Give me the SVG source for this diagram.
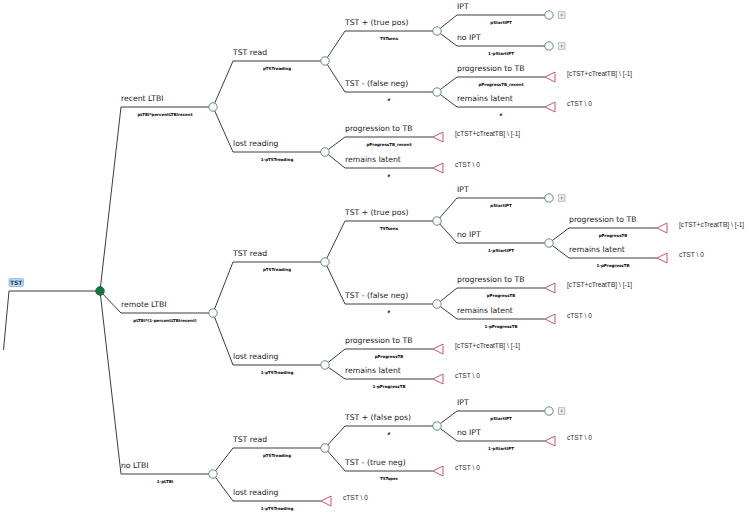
<svg xmlns="http://www.w3.org/2000/svg" width="748" height="515" viewBox="0 0 748 515">
<defs>
<style>
.bg{fill:#ffffff}
.ln{fill:none;stroke:#3c3c3c;stroke-width:1}
.ch{fill:#ffffff;stroke:#5e8f6c;stroke-width:1}
.tm{fill:#ffffff;stroke:#c4566f;stroke-width:1}
.pl{fill:#f6f6f6;stroke:#9a9a9a;stroke-width:0.7}
.pp{stroke:#8a8a8a;stroke-width:0.7}
.lb{font-family:"DejaVu Sans",sans-serif;font-size:7.7px;fill:#222}
.sb{font-family:"DejaVu Sans",sans-serif;font-size:4px;font-weight:bold;fill:#000;text-anchor:middle}
.py{font-family:"Liberation Sans",Arial,sans-serif;font-size:6.6px;fill:#2a2a2a}
</style>
</defs>
<rect class="bg" x="0" y="0" width="748" height="515"/>

<g id="connectors">
<polyline class="ln" points="3.5,350 9,291 100,291"/>
<polyline class="ln" points="100,291 121,107 213,107"/>
<polyline class="ln" points="100,291 121,313 213,313"/>
<polyline class="ln" points="100,291 121,474 213,474"/>
<polyline class="ln" points="213,107 233,61 325,61"/>
<polyline class="ln" points="213,107 233,152 325,152"/>
<polyline class="ln" points="213,313 233,262 325,262"/>
<polyline class="ln" points="213,313 233,365 325,365"/>
<polyline class="ln" points="213,474 233,448 325,448"/>
<polyline class="ln" points="213,474 233,501 321,501"/>
<polyline class="ln" points="325,61 345,31 437,31"/>
<polyline class="ln" points="325,61 345,92 437,92"/>
<polyline class="ln" points="325,152 345,137 433,137"/>
<polyline class="ln" points="325,152 345,168 433,168"/>
<polyline class="ln" points="325,262 345,221 437,221"/>
<polyline class="ln" points="325,262 345,304 437,304"/>
<polyline class="ln" points="325,365 345,349 433,349"/>
<polyline class="ln" points="325,365 345,379 433,379"/>
<polyline class="ln" points="325,448 345,426 437,426"/>
<polyline class="ln" points="325,448 345,471 433,471"/>
<polyline class="ln" points="437,31 457,15 549,15"/>
<polyline class="ln" points="437,31 457,46 549,46"/>
<polyline class="ln" points="437,92 457,77 545,77"/>
<polyline class="ln" points="437,92 457,107 545,107"/>
<polyline class="ln" points="437,221 457,198 549,198"/>
<polyline class="ln" points="437,221 457,243 549,243"/>
<polyline class="ln" points="437,304 457,288 545,288"/>
<polyline class="ln" points="437,304 457,319 545,319"/>
<polyline class="ln" points="437,426 457,411 549,411"/>
<polyline class="ln" points="437,426 457,441 545,441"/>
<polyline class="ln" points="549,243 569,228 657,228"/>
<polyline class="ln" points="549,243 569,258 657,258"/>
</g>

<g id="branch-labels">
<text class="lb" x="121" y="101">recent LTBI</text>
<text class="sb" x="165" y="115.5">pLTBI*percentLTBIrecent</text>
<text class="lb" x="121" y="307">remote LTBI</text>
<text class="sb" x="165" y="321.5">pLTBI*(1-percentLTBIrecent)</text>
<text class="lb" x="121" y="468">no LTBI</text>
<text class="sb" x="165" y="482.5">1-pLTBI</text>

<text class="lb" x="233" y="55">TST read</text>
<text class="sb" x="277" y="69.5">pTSTreading</text>
<text class="lb" x="233" y="146">lost reading</text>
<text class="sb" x="277" y="160.5">1-pTSTreading</text>
<text class="lb" x="233" y="256">TST read</text>
<text class="sb" x="277" y="270.5">pTSTreading</text>
<text class="lb" x="233" y="359">lost reading</text>
<text class="sb" x="277" y="373.5">1-pTSTreading</text>
<text class="lb" x="233" y="442">TST read</text>
<text class="sb" x="277" y="456.5">pTSTreading</text>
<text class="lb" x="233" y="495">lost reading</text>
<text class="sb" x="277" y="509.5">1-pTSTreading</text>

<text class="lb" x="345" y="25">TST + (true pos)</text>
<text class="sb" x="389" y="39.5">TSTsens</text>
<text class="lb" x="345" y="86">TST - (false neg)</text>
<text class="sb" x="389" y="100.5">#</text>
<text class="lb" x="345" y="131">progression to TB</text>
<text class="sb" x="389" y="145.5">pProgressTB_recent</text>
<text class="lb" x="345" y="162">remains latent</text>
<text class="sb" x="389" y="176.5">#</text>
<text class="lb" x="345" y="215">TST + (true pos)</text>
<text class="sb" x="389" y="229.5">TSTsens</text>
<text class="lb" x="345" y="298">TST - (false neg)</text>
<text class="sb" x="389" y="312.5">#</text>
<text class="lb" x="345" y="343">progression to TB</text>
<text class="sb" x="389" y="357.5">pProgressTB</text>
<text class="lb" x="345" y="373">remains latent</text>
<text class="sb" x="389" y="387.5">1-pProgressTB</text>
<text class="lb" x="345" y="420">TST + (false pos)</text>
<text class="sb" x="389" y="434.5">#</text>
<text class="lb" x="345" y="465">TST - (true neg)</text>
<text class="sb" x="389" y="479.5">TSTspec</text>

<text class="lb" x="457" y="9">IPT</text>
<text class="sb" x="501" y="23.5">pStartIPT</text>
<text class="lb" x="457" y="40">no IPT</text>
<text class="sb" x="501" y="54.5">1-pStartIPT</text>
<text class="lb" x="457" y="71">progression to TB</text>
<text class="sb" x="501" y="85.5">pProgressTB_recent</text>
<text class="lb" x="457" y="101">remains latent</text>
<text class="sb" x="501" y="115.5">#</text>
<text class="lb" x="457" y="192">IPT</text>
<text class="sb" x="501" y="206.5">pStartIPT</text>
<text class="lb" x="457" y="237">no IPT</text>
<text class="sb" x="501" y="251.5">1-pStartIPT</text>
<text class="lb" x="457" y="282">progression to TB</text>
<text class="sb" x="501" y="296.5">pProgressTB</text>
<text class="lb" x="457" y="313">remains latent</text>
<text class="sb" x="501" y="327.5">1-pProgressTB</text>
<text class="lb" x="457" y="405">IPT</text>
<text class="sb" x="501" y="419.5">pStartIPT</text>
<text class="lb" x="457" y="435">no IPT</text>
<text class="sb" x="501" y="449.5">1-pStartIPT</text>

<text class="lb" x="569" y="222">progression to TB</text>
<text class="sb" x="613" y="236.5">pProgressTB</text>
<text class="lb" x="569" y="252">remains latent</text>
<text class="sb" x="613" y="266.5">1-pProgressTB</text>
</g>

<g id="node-root">
<rect x="9" y="278.5" width="14.5" height="8" rx="1" fill="#bcd9f3" stroke="#7fa9d6" stroke-width="0.7"/>
<text x="16.2" y="285" font-family="DejaVu Sans,sans-serif" font-size="6px" font-weight="bold" fill="#1f3d6e" text-anchor="middle">TST</text>
</g>
<g id="node-decision"><circle cx="100" cy="291" r="4.4" fill="#17753a" stroke="#0f5a2b" stroke-width="0.6"/></g>

<g id="node-recent"><circle class="ch" cx="213" cy="107" r="4.2"/></g>
<g id="node-remote"><circle class="ch" cx="213" cy="313" r="4.2"/></g>
<g id="node-noltbi"><circle class="ch" cx="213" cy="474" r="4.2"/></g>

<g id="node-recent-read"><circle class="ch" cx="325" cy="61" r="4.2"/></g>
<g id="node-recent-lost"><circle class="ch" cx="325" cy="152" r="4.2"/></g>
<g id="node-remote-read"><circle class="ch" cx="325" cy="262" r="4.2"/></g>
<g id="node-remote-lost"><circle class="ch" cx="325" cy="365" r="4.2"/></g>
<g id="node-noltbi-read"><circle class="ch" cx="325" cy="448" r="4.2"/></g>
<g id="node-noltbi-lost"><polygon class="tm" points="321,501 331,496 331,506"/><text class="py" x="343" y="499.5">cTST \ 0</text></g>

<g id="node-recent-truepos"><circle class="ch" cx="437" cy="31" r="4.2"/></g>
<g id="node-recent-falseneg"><circle class="ch" cx="437" cy="92" r="4.2"/></g>
<g id="node-recent-lost-prog"><polygon class="tm" points="433,137 443,132 443,142"/><text class="py" x="455" y="135.5">[cTST+cTreatTB] \ [-1]</text></g>
<g id="node-recent-lost-latent"><polygon class="tm" points="433,168 443,163 443,173"/><text class="py" x="455" y="166.5">cTST \ 0</text></g>
<g id="node-remote-truepos"><circle class="ch" cx="437" cy="221" r="4.2"/></g>
<g id="node-remote-falseneg"><circle class="ch" cx="437" cy="304" r="4.2"/></g>
<g id="node-remote-lost-prog"><polygon class="tm" points="433,349 443,344 443,354"/><text class="py" x="455" y="347.5">[cTST+cTreatTB] \ [-1]</text></g>
<g id="node-remote-lost-latent"><polygon class="tm" points="433,379 443,374 443,384"/><text class="py" x="455" y="377.5">cTST \ 0</text></g>
<g id="node-noltbi-falsepos"><circle class="ch" cx="437" cy="426" r="4.2"/></g>
<g id="node-noltbi-trueneg"><polygon class="tm" points="433,471 443,466 443,476"/><text class="py" x="455" y="469.5">cTST \ 0</text></g>

<g id="node-recent-ipt"><circle class="ch" cx="549" cy="15" r="4.2"/><rect class="pl" x="558.5" y="11.8" width="6.4" height="6.4"/><path class="pp" d="M559.9,15h3.6M561.7,13.2v3.6"/></g>
<g id="node-recent-noipt"><circle class="ch" cx="549" cy="46" r="4.2"/><rect class="pl" x="558.5" y="42.8" width="6.4" height="6.4"/><path class="pp" d="M559.9,46h3.6M561.7,44.2v3.6"/></g>
<g id="node-recent-fn-prog"><polygon class="tm" points="545,77 555,72 555,82"/><text class="py" x="567" y="75.5">[cTST+cTreatTB] \ [-1]</text></g>
<g id="node-recent-fn-latent"><polygon class="tm" points="545,107 555,102 555,112"/><text class="py" x="567" y="105.5">cTST \ 0</text></g>
<g id="node-remote-ipt"><circle class="ch" cx="549" cy="198" r="4.2"/><rect class="pl" x="558.5" y="194.8" width="6.4" height="6.4"/><path class="pp" d="M559.9,198h3.6M561.7,196.2v3.6"/></g>
<g id="node-remote-noipt"><circle class="ch" cx="549" cy="243" r="4.2"/></g>
<g id="node-remote-fn-prog"><polygon class="tm" points="545,288 555,283 555,293"/><text class="py" x="567" y="286.5">[cTST+cTreatTB] \ [-1]</text></g>
<g id="node-remote-fn-latent"><polygon class="tm" points="545,319 555,314 555,324"/><text class="py" x="567" y="317.5">cTST \ 0</text></g>
<g id="node-noltbi-ipt"><circle class="ch" cx="549" cy="411" r="4.2"/><rect class="pl" x="558.5" y="407.8" width="6.4" height="6.4"/><path class="pp" d="M559.9,411h3.6M561.7,409.2v3.6"/></g>
<g id="node-noltbi-noipt"><polygon class="tm" points="545,441 555,436 555,446"/><text class="py" x="567" y="439.5">cTST \ 0</text></g>

<g id="node-remote-noipt-prog"><polygon class="tm" points="657,228 667,223 667,233"/><text class="py" x="679" y="226.5">[cTST+cTreatTB] \ [-1]</text></g>
<g id="node-remote-noipt-latent"><polygon class="tm" points="657,258 667,253 667,263"/><text class="py" x="679" y="256.5">cTST \ 0</text></g>
</svg>
